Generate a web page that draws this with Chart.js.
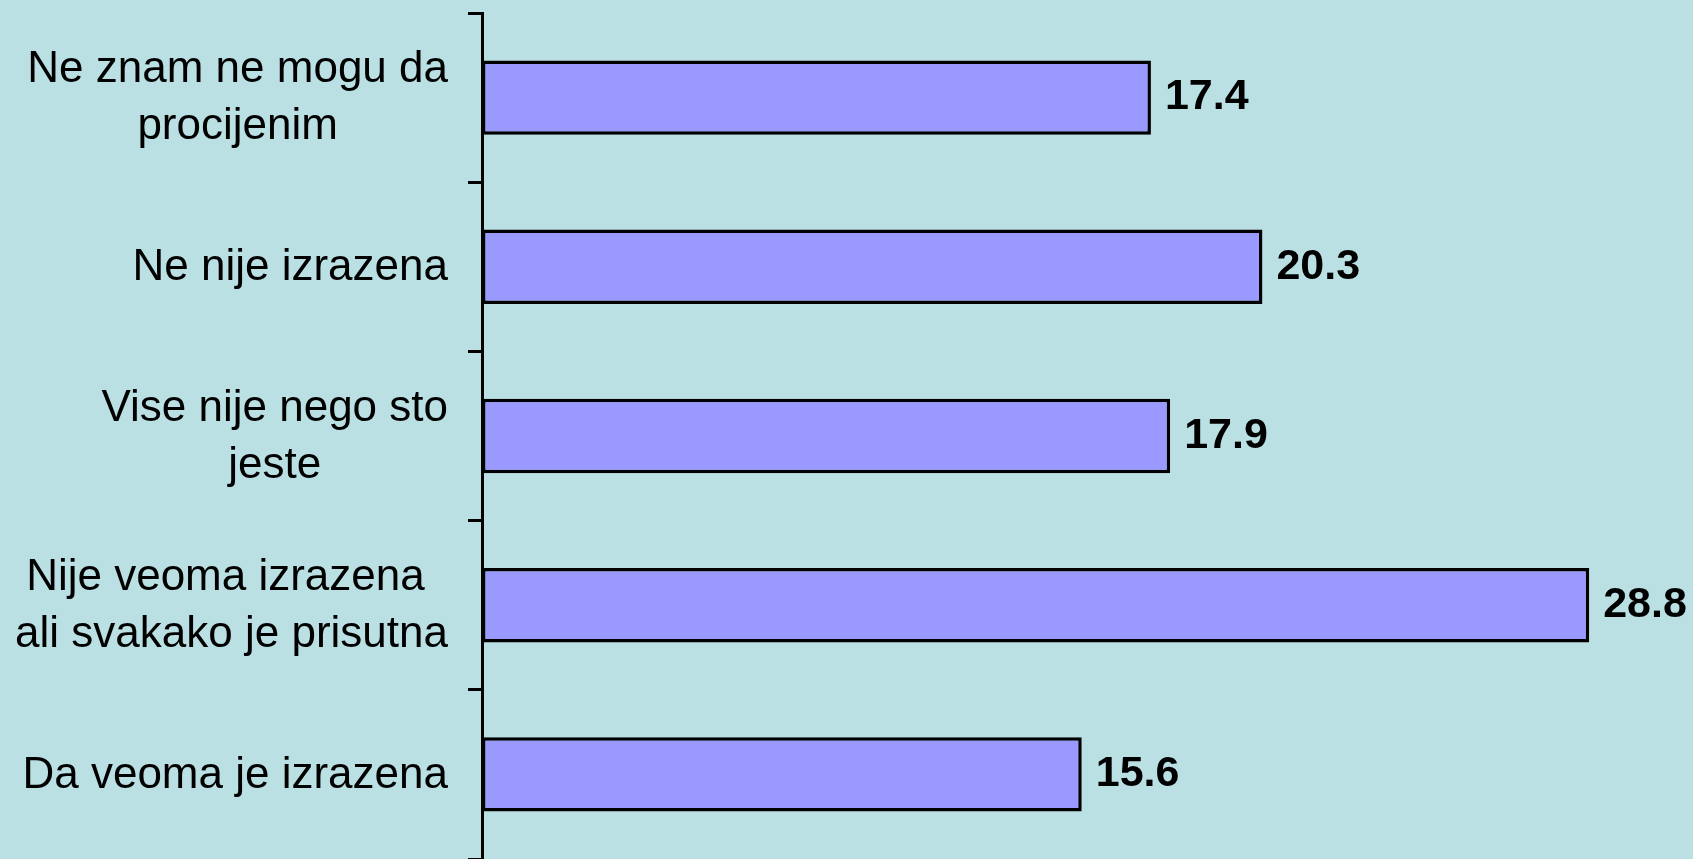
<!DOCTYPE html>
<html>
<head>
<meta charset="utf-8">
<script src="https://cdn.jsdelivr.net/npm/chart.js@4"></script>
<style>
  html, body { margin: 0; padding: 0; background: #bae0e3; }
  #wrap { width: 1693px; height: 859px; }
</style>
</head>
<body>
<div id="wrap"><canvas id="chart" width="1693" height="859"></canvas></div>
<script>
const categories = [
  ["Ne znam ne mogu da", "procijenim"],
  ["Ne nije izrazena"],
  ["Vise nije nego sto", "jeste"],
  ["Nije veoma izrazena ", "ali svakako je prisutna"],
  ["Da veoma je izrazena"]
];
const values = [17.4, 20.3, 17.9, 28.8, 15.6];
const xMax = 31.5;

const FONT = "'Liberation Sans', Arial, sans-serif";

// labels: category text centered per line, block right-aligned; values bold after bar
const labelPlugin = {
  id: 'labels',
  afterDraw(chart) {
    const ctx = chart.ctx;
    const yScale = chart.scales.y;
    const meta = chart.getDatasetMeta(0);
    ctx.save();
    ctx.fillStyle = '#000';
    ctx.textBaseline = 'middle';
    ctx.font = '44px ' + FONT;
    ctx.textAlign = 'center';
    const rightEdge = yScale.right - 34;
    const lineH = 57;
    categories.forEach((lines, i) => {
      const y = yScale.getPixelForValue(i) + 1;
      const w = Math.max(...lines.map(l => ctx.measureText(l).width));
      const cx = rightEdge - w / 2;
      const y0 = y - (lines.length - 1) * lineH / 2;
      lines.forEach((l, k) => ctx.fillText(l, cx, y0 + k * lineH));
    });
    ctx.font = 'bold 43px ' + FONT;
    ctx.textAlign = 'left';
    meta.data.forEach((bar, i) => {
      ctx.fillText(values[i].toFixed(1), bar.x + 14, bar.y);
    });
    ctx.restore();
  }
};

new Chart(document.getElementById('chart'), {
  type: 'bar',
  data: {
    labels: categories,
    datasets: [{
      data: values,
      backgroundColor: '#9999ff',
      borderColor: '#000',
      borderWidth: 3.5,
      borderSkipped: false,
      categoryPercentage: 1,
      barPercentage: 0.44
    }]
  },
  options: {
    indexAxis: 'y',
    responsive: false,
    animation: false,
    layout: { padding: { top: 13, bottom: 0, left: 0, right: 0 } },
    plugins: { legend: { display: false }, tooltip: { enabled: false } },
    scales: {
      x: { display: false, min: 0, max: xMax },
      y: {
        offset: true,
        afterFit(s) { s.width = 482; },
        ticks: { display: false },
        border: { display: true, color: '#000', width: 3 },
        grid: {
          offset: true,
          drawOnChartArea: false,
          drawTicks: true,
          tickLength: 14,
          color: '#000',
          lineWidth: 3
        }
      }
    }
  },
  plugins: [labelPlugin]
});
</script>
</body>
</html>
